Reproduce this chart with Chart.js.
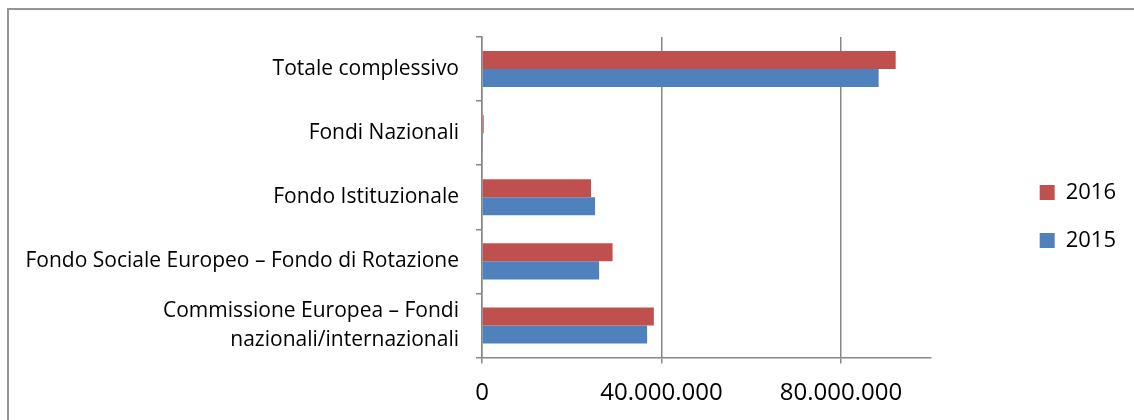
<!DOCTYPE html>
<html>
<head>
<meta charset="utf-8">
<script src="https://cdn.jsdelivr.net/npm/chart.js@4.4.0/dist/chart.umd.min.js"></script>
<style>
  html, body { margin: 0; padding: 0; background: #fff; overflow: hidden; }
  #wrap { position: relative; width: 1134px; height: 420px; }
  #frame { position: absolute; left: 7px; top: 8px; width: 1200px; height: 500px;
           border-left: 2px solid #959595; border-top: 2px solid #959595; }
  canvas { position: absolute; left: 0; top: 0; }
</style>
</head>
<body>
<div id="wrap">
  <div id="frame"></div>
  <canvas id="fondiChart" width="1134" height="420"></canvas>
</div>
<script>
// Fondi per tipologia, 2015 vs 2016
const categories = [
  'Totale complessivo',
  'Fondi Nazionali',
  'Fondo Istituzionale',
  'Fondo Sociale Europeo – Fondo di Rotazione',
  ['Commissione Europea – Fondi', 'nazionali/internazionali']
];
const values2016 = [92200000, 380000, 24300000, 29100000, 38300000];
const values2015 = [88400000, 100000, 25200000, 26100000, 36800000];
const xTicks = [0, 40000000, 80000000];

const axisGray = '#878787';
const fontName = 'Open Sans';

function formatNum(v) {
  return String(v).replace(/\B(?=(\d{3})+(?!\d))/g, '.');
}

var ctx = document.getElementById('fondiChart').getContext('2d');

new Chart(ctx, {
  type: 'bar',
  data: {
    labels: categories,
    datasets: [{
      label: '2016',
      data: values2016,
      backgroundColor: '#C0504D',
      barPercentage: 1,
      categoryPercentage: 0.5625
    }, {
      label: '2015',
      data: values2015,
      backgroundColor: '#4F81BD',
      barPercentage: 1,
      categoryPercentage: 0.5625
    }]
  },
  options: {
    indexAxis: 'y',
    responsive: false,
    animation: false,
    devicePixelRatio: 1,
    layout: {
      padding: { top: 13, left: 0, right: 8, bottom: 0 }
    },
    scales: {
      x: {
        min: 0,
        max: 100000000,
        afterBuildTicks: (scale) => {
          scale.ticks = xTicks.map(v => ({ value: v }));
        },
        afterFit: (scale) => { scale.height = 62.5; },
        ticks: {
          padding: 15,
          color: '#000',
          font: { family: fontName, size: 24 },
          callback: (v) => formatNum(v)
        },
        grid: { color: axisGray, lineWidth: 1.5, tickLength: 6 },
        border: { color: axisGray, width: 1.5 }
      },
      y: {
        afterFit: (scale) => {
          scale.width = 482;
          scale.paddingTop = 0;
          scale.paddingBottom = 0;
        },
        ticks: {
          padding: 17,
          color: '#000',
          font: { family: fontName, size: 21, lineHeight: 1.38 }
        },
        grid: { drawOnChartArea: false, color: axisGray, lineWidth: 1.5, tickLength: 6 },
        border: { color: axisGray, width: 1.5 }
      },
      // empty axes used only as spacing around the plot area
      gapTop: {
        type: 'linear',
        position: 'top',
        afterFit: (scale) => { scale.height = 24; },
        ticks: { display: false },
        grid: { display: false },
        border: { display: false }
      },
      gap: {
        type: 'linear',
        position: 'right',
        afterFit: (scale) => { scale.width = 83; },
        ticks: { display: false },
        grid: { display: false },
        border: { display: false }
      }
    },
    plugins: {
      legend: {
        position: 'right',
        labels: {
          boxWidth: 15,
          boxHeight: 15,
          padding: 26,
          color: '#000',
          font: { family: fontName, size: 22 }
        }
      },
      tooltip: { enabled: false }
    }
  }
});
</script>
</body>
</html>
